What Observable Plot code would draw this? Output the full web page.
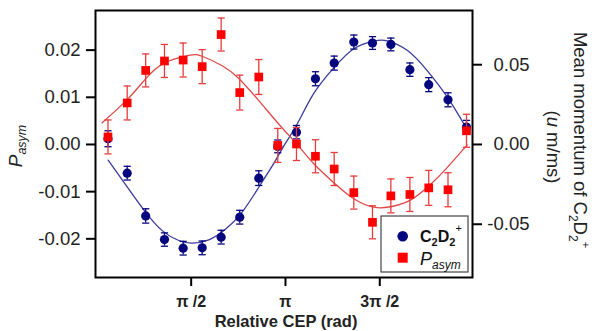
<!DOCTYPE html>
<html><head><meta charset="utf-8">
<script src="https://cdn.jsdelivr.net/npm/d3@7"></script>
<script src="https://cdn.jsdelivr.net/npm/@observablehq/plot@0.6"></script>
<style>
html,body{margin:0;padding:0;background:#fff;}
</style>
</head><body><div id="chart"></div>
<script>
// ---- data ----
const cep = [0.185, 0.505, 0.813, 1.126, 1.437, 1.754, 2.070, 2.380, 2.697, 3.013,
             3.325, 3.641, 3.953, 4.280, 4.591, 4.897, 5.214, 5.528, 5.849, 6.157];
const pAsym = [0.0016, 0.0088, 0.0157, 0.0177, 0.0179, 0.0165, 0.0233, 0.0110, 0.0143, -0.0002,
               0.0001, -0.0025, -0.0052, -0.0102, -0.0165, -0.0109, -0.0106, -0.0092, -0.0096, 0.0029];
const pAsymErr = [0.0036, 0.0036, 0.0035, 0.0035, 0.0036, 0.0036, 0.0035, 0.0037, 0.0037, 0.0036,
                  0.0035, 0.0035, 0.0035, 0.0035, 0.0035, 0.0036, 0.0036, 0.0037, 0.0036, 0.0035];
const momentum = [0.0036, -0.0180, -0.0448, -0.0596, -0.0650, -0.0648, -0.0581, -0.0456, -0.0211, -0.0012,
                  0.0077, 0.0412, 0.0510, 0.0642, 0.0636, 0.0627, 0.0469, 0.0375, 0.0280, 0.0109];
const momentumErr = [0.0050, 0.0043, 0.0045, 0.0042, 0.0043, 0.0043, 0.0043, 0.0043, 0.0046, 0.0040,
                     0.0042, 0.0044, 0.0044, 0.0044, 0.0040, 0.0040, 0.0042, 0.0044, 0.0044, 0.0042];

// fitted curves
const fitPx = [0.088, 0.505, 0.81, 1.114, 1.531, 1.754, 2.087, 2.364, 2.697, 3.087,
               3.337, 3.613, 3.946, 4.28, 4.613, 4.89, 5.223, 5.556, 5.835, 6.169];
const fitPy = [0.0046, 0.0095, 0.0139, 0.0172, 0.0189, 0.0187, 0.0167, 0.0140, 0.0093, 0.0035,
               0.0000, -0.0041, -0.0081, -0.0115, -0.0133, -0.0132, -0.0118, -0.0085, -0.0049, -0.0001];
const fitMx = [0.188, 0.531, 0.81, 1.088, 1.364, 1.588, 1.864, 2.142, 2.42, 2.697, 2.975,
               3.108, 3.337, 3.613, 3.946, 4.28, 4.613, 4.836, 5.169, 5.502, 5.835, 6.14];
const fitMy = [-0.0098, -0.0280, -0.0424, -0.0540, -0.0602, -0.0618, -0.0598, -0.0532, -0.0424, -0.0268, -0.0101,
               -0.0013, 0.0128, 0.0320, 0.0480, 0.0600, 0.0648, 0.0650, 0.0590, 0.0463, 0.0298, 0.0112];

const xTicks = [Math.PI / 2, Math.PI, 3 * Math.PI / 2];
const xTickLabels = ["π /2", "π", "3π /2"];
const leftTicks = [-0.02, -0.01, 0, 0.01, 0.02];
const rightTicks = [-0.05, 0, 0.05];

// ---- build ----
const K = 0.3382; // right-axis unit -> left-axis unit (zeros aligned)
const BLUE = "#06067f", BLUE_LINE = "#3a3a9c";
const RED = "#ff0000", RED_LINE = "#e04848", RED_ERR = "#e83c3c";
const FONT = "'Liberation Sans', Arial, Helvetica, sans-serif";

const pts = cep.map((x, i) => ({x, p: pAsym[i], pe: pAsymErr[i], m: momentum[i], me: momentumErr[i]}));
const fitP = fitPx.map((x, i) => ({x, y: fitPy[i]}));
const fitM = fitMx.map((x, i) => ({x, y: fitMy[i] * K}));

const cap = {draw(ctx, size) { const r = Math.sqrt(size / Math.PI); ctx.moveTo(-r, 0); ctx.lineTo(r, 0); }};

const chart = Plot.plot({
  width: 595, height: 331,
  marginLeft: 95, marginRight: 123, marginTop: 10, marginBottom: 54,
  x: {domain: [-0.023, 6.257]},
  y: {domain: [-0.0282, 0.0284]},
  style: {fontFamily: FONT, fontSize: "18.5px", background: "white", overflow: "visible"},
  marks: [
    Plot.axisY(leftTicks, {anchor: "left", tickSize: 9, tickPadding: 6, strokeWidth: 2,
      tickFormat: d => d.toFixed(2), fontSize: 18.5, fill: "#222", label: null}),
    Plot.axisY(rightTicks.map(d => d * K), {anchor: "right", tickSize: 9, strokeWidth: 2,
      tickFormat: () => "", label: null}),
    Plot.text(rightTicks, {y: d => d * K, text: d => d.toFixed(2), frameAnchor: "right",
      dx: 57, textAnchor: "end", fontSize: 18.5, fill: "#222"}),
    Plot.axisX(xTicks, {anchor: "bottom", tickSize: 9, tickPadding: 9, strokeWidth: 2,
      tickFormat: d => xTickLabels[xTicks.indexOf(d)], fontSize: 16, fontWeight: "bold", fill: "#222", label: null}),
    // blue series (right axis)
    Plot.line(fitM, {x: "x", y: "y", stroke: BLUE_LINE, strokeWidth: 1.3, curve: "natural"}),
    Plot.ruleX(pts, {x: "x", y1: d => (d.m - d.me) * K, y2: d => (d.m + d.me) * K, stroke: BLUE, strokeWidth: 1.3}),
    Plot.dot(pts, {x: "x", y: d => (d.m - d.me) * K, symbol: cap, r: 3.6, stroke: BLUE, fill: "none", strokeWidth: 1.3}),
    Plot.dot(pts, {x: "x", y: d => (d.m + d.me) * K, symbol: cap, r: 3.6, stroke: BLUE, fill: "none", strokeWidth: 1.3}),
    Plot.dot(pts, {x: "x", y: d => d.m * K, r: 4.6, fill: BLUE, stroke: "none"}),
    // red series (left axis)
    Plot.line(fitP, {x: "x", y: "y", stroke: RED_LINE, strokeWidth: 1.3, curve: "natural"}),
    Plot.ruleX(pts, {x: "x", y1: d => d.p - d.pe, y2: d => d.p + d.pe, stroke: RED_ERR, strokeWidth: 1.3}),
    Plot.dot(pts, {x: "x", y: d => d.p - d.pe, symbol: cap, r: 3.6, stroke: RED_ERR, fill: "none", strokeWidth: 1.3}),
    Plot.dot(pts, {x: "x", y: d => d.p + d.pe, symbol: cap, r: 3.6, stroke: RED_ERR, fill: "none", strokeWidth: 1.3}),
    Plot.dot(pts, {x: "x", y: "p", symbol: "square", r: 4.9, fill: RED, stroke: "none"}),
    Plot.frame({stroke: "black", strokeWidth: 2})
  ]
});

document.getElementById("chart").appendChild(chart);

// ---- titles / labels / legend ----
const svg = d3.select(chart);

// x label
svg.append("text").attr("x", 286).attr("y", 326.5).attr("text-anchor", "middle")
  .attr("font-family", FONT).attr("font-size", 16.5).attr("font-weight", "bold").attr("fill", "#222")
  .text("Relative CEP (rad)");

// left label: P_asym
{
  const t = svg.append("g").attr("transform", "translate(22,146) rotate(-90)")
    .append("text").attr("text-anchor", "middle").attr("font-family", FONT)
    .attr("font-style", "italic").attr("fill", "#222");
  t.append("tspan").attr("font-size", 19).text("P");
  t.append("tspan").attr("font-size", 12.5).attr("dy", 4).text("asym");
}

// right label
{
  const g = svg.append("g").attr("transform", "translate(574,140) rotate(90)");
  const t = g.append("text").attr("text-anchor", "middle").attr("font-family", FONT)
    .attr("font-size", 18.5).attr("fill", "#222");
  t.append("tspan").text("Mean momentum of C");
  t.append("tspan").attr("font-size", 12).attr("dy", 5).text("2");
  t.append("tspan").attr("dy", -5).text("D");
  t.append("tspan").attr("font-size", 12).attr("dy", 5).text("2");
  t.append("tspan").attr("font-size", 11).attr("dy", -13).text("+");
  const g2 = svg.append("g").attr("transform", "translate(547,147) rotate(90)");
  const t2 = g2.append("text").attr("text-anchor", "middle").attr("font-family", FONT)
    .attr("font-size", 18.5).attr("fill", "#222");
  t2.append("tspan").text("(");
  t2.append("tspan").attr("font-style", "italic").text("u");
  t2.append("tspan").text(" m/ms)");
}

// legend
{
  const lg = svg.append("g");
  lg.append("rect").attr("x", 381).attr("y", 216).attr("width", 87).attr("height", 56)
    .attr("fill", "white").attr("stroke", "#444").attr("stroke-width", 1.2);
  lg.append("circle").attr("cx", 402.7).attr("cy", 236.3).attr("r", 5.3).attr("fill", BLUE);
  lg.append("rect").attr("x", 397.7).attr("y", 252.7).attr("width", 10).attr("height", 10).attr("fill", RED);
  const t1 = lg.append("text").attr("x", 420).attr("y", 241.5).attr("font-family", FONT)
    .attr("text-anchor", "start").attr("font-size", 16).attr("font-weight", "bold").attr("fill", "#111");
  t1.append("tspan").text("C");
  t1.append("tspan").attr("font-size", 11).attr("dy", 4).text("2");
  t1.append("tspan").attr("dy", -4).text("D");
  t1.append("tspan").attr("font-size", 11).attr("dy", 4).text("2");
  t1.append("tspan").attr("font-size", 11).attr("font-weight", "normal").attr("dy", -14).text("+");
  const t2 = lg.append("text").attr("x", 420).attr("y", 264.5).attr("font-family", FONT)
    .attr("text-anchor", "start").attr("font-style", "italic").attr("fill", "#111");
  t2.append("tspan").attr("font-size", 18).text("P");
  t2.append("tspan").attr("font-size", 12).attr("dy", 4).text("asym");
}
</script>
</body></html>
